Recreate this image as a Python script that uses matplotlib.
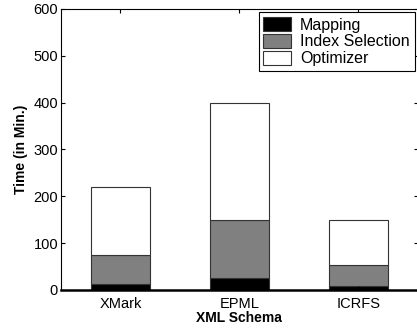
import numpy as np
import matplotlib
matplotlib.use("Agg")
import matplotlib.pyplot as plt

plt.rcParams['font.family'] = ['Liberation Sans', 'DejaVu Sans']

schemas = ["XMark", "EPML", "ICRFS"]
mapping = [12, 25, 8]
index_sel = [63, 125, 45]
optimizer = [145, 250, 97]

x = np.arange(1, len(schemas) + 1)
mapping = np.array(mapping)
index_sel = np.array(index_sel)
optimizer = np.array(optimizer)

fig = plt.figure(figsize=(4.17, 3.31), dpi=100)
ax = fig.add_axes([0.146, 0.124, 0.856, 0.849])

w = 0.5
ec = '#333333'
ax.bar(x, mapping, w, color='black', edgecolor=ec, linewidth=0.8, label='Mapping')
ax.bar(x, index_sel, w, bottom=mapping, color='#808080', edgecolor=ec, linewidth=0.8,
       label='Index Selection')
ax.bar(x, optimizer, w, bottom=mapping + index_sel, color='white', edgecolor=ec,
       linewidth=0.8, label='Optimizer')

ax.set_xlim(0.5, 3.5)
ax.set_ylim(0, 600)
ax.set_xticks(x)
ax.set_xticklabels(schemas)
ax.set_yticks(range(0, 601, 100))
ax.tick_params(direction='in', top=True, right=True, labelsize=10.5, length=3, width=0.8)
ax.tick_params(axis='y', pad=2)
ax.tick_params(axis='x', pad=5)
for s in ['top', 'left', 'right']:
    ax.spines[s].set_linewidth(0.8)
ax.spines['bottom'].set_linewidth(1.8)

ax.set_xlabel("XML Schema", fontsize=10, fontweight='bold', labelpad=0)
ax.set_ylabel("Time (in Min.)", fontsize=10, fontweight='bold', labelpad=4)

leg = ax.legend(loc='upper right', fontsize=11.5, fancybox=False, edgecolor='black',
                framealpha=1, borderaxespad=0.2, handlelength=1.7, handleheight=1.0,
                labelspacing=0.08, borderpad=0.3, handletextpad=0.6)
leg.get_frame().set_linewidth(0.8)

fig.savefig("out.png", dpi=100)
